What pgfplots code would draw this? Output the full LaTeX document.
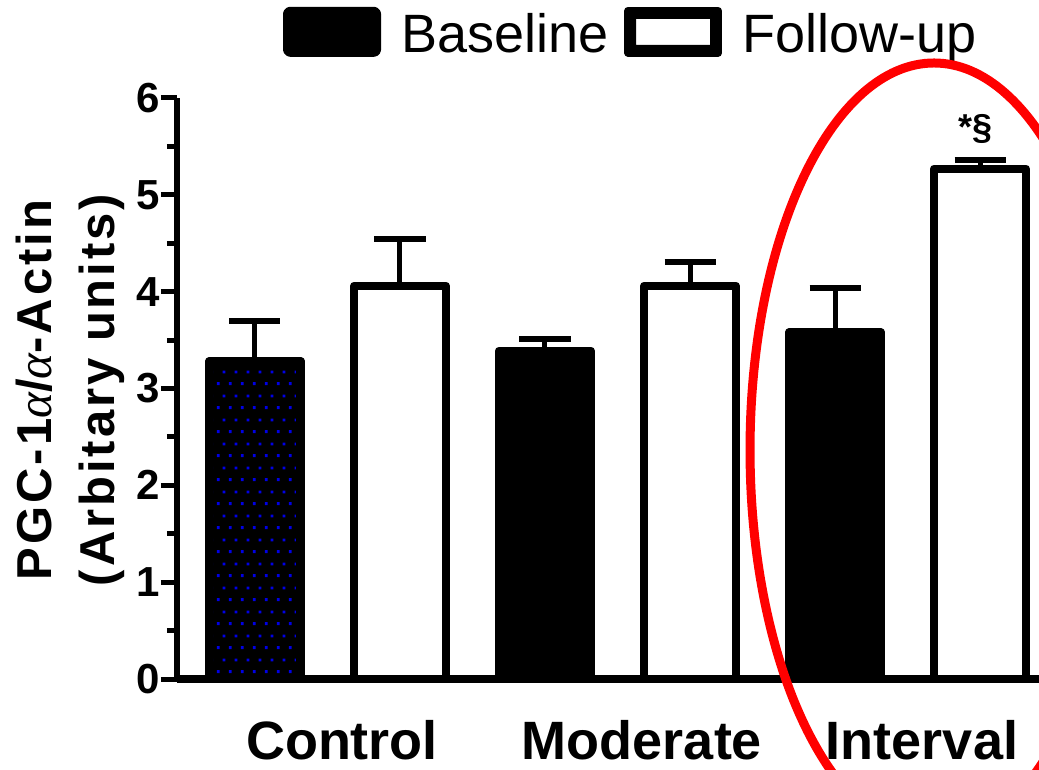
\documentclass[border=0pt]{standalone}
\usepackage{pgfplots}
\pgfplotsset{compat=1.18}
\usepackage{pgfplotstable}
\usepackage{fontspec}
\setmainfont{Liberation Sans}
\newfontfamily\greekf{Liberation Serif}
\usetikzlibrary{patterns}
\pgfdeclarepatternformonly{bluedots}{\pgfqpoint{0pt}{0pt}}{\pgfqpoint{12pt}{24pt}}{\pgfqpoint{12pt}{24pt}}{%
  \pgfpathrectangle{\pgfqpoint{1pt}{1pt}}{\pgfqpoint{3pt}{3pt}}%
  \pgfpathrectangle{\pgfqpoint{7pt}{13pt}}{\pgfqpoint{3pt}{3pt}}%
  \pgfusepath{fill}}
\definecolor{dotblue}{RGB}{0,0,230}
\newcommand{\tl}[1]{\mbox{\fontsize{42}{42}\selectfont\bfseries #1}}

\pgfplotstableread{
x y e
0 3.28 0.42
2 3.39 0.12
4 3.58 0.46
}\tblbase
\pgfplotstableread{
x y e
1 4.06 0.48
3 4.06 0.25
5 5.27 0.09
}\tblfollow
\pgfplotstableread{
x y
0 3.22
}\tbldots

\begin{document}
\begin{tikzpicture}
\useasboundingbox (0pt,0pt) rectangle (1039pt,769pt);
\clip (0pt,0pt) rectangle (1039pt,769pt);
\begin{axis}[
  at={(177pt,90pt)}, anchor=south west,
  x=145pt, y=96.8333pt,
  xmin=-0.5379, xmax=5.407, ymin=0, ymax=6,
  clip=false,
  axis x line=bottom, axis y line=left,
  axis line style={-, black},
  x axis line style={line width=8pt},
  y axis line style={line width=6pt},
  ytick={0,1,2,3,4,5,6},
  yticklabels={\tl{0},\tl{1},\tl{2},\tl{3},\tl{4},\tl{5},\tl{6}},
  minor ytick={0.5,1.5,2.5,3.5,4.5,5.5},
  tick align=outside,
  major tick length=16pt, minor tick length=10pt,
  ytick style={line width=5pt, black},
  minor tick style={line width=5pt, black},
  yticklabel style={font=\fontsize{42}{42}\selectfont\bfseries, inner sep=1pt},
  xtick={0.6,2.669,4.6},
  xticklabels={Control,Moderate,Interval},
  xtick style={draw=none},
  xticklabel style={font=\fontsize{54}{54}\selectfont\bfseries, anchor=base, yshift=-64pt},
  legend columns=2,
  legend style={draw=none, fill=none, inner sep=0pt, outer sep=0pt,
    at={(axis description cs:0.123,1.157)}, anchor=north west,
    font=\fontsize{54}{60}\selectfont,
    nodes={inner sep=0pt, text height=39pt, text depth=12pt},
    /tikz/every odd column/.append style={column sep=20pt},
    /tikz/every even column/.append style={column sep=16pt}},
]
\addplot[ybar, bar shift=0pt, bar width=92pt, fill=black, draw=black, line width=8pt, line join=round,
  legend image code/.code={\fill[black, rounded corners=3pt] (0pt,-13.5pt) rectangle (90pt,28.5pt);},
  error bars/.cd, y dir=plus, y explicit, error mark=|,
  error bar style={line width=5pt, black},
  error mark options={mark size=25.5pt, line width=6pt, black}]
  table[x=x, y=y, y error=e]{\tblbase};
\addlegendentry{Baseline}
\addplot[ybar, bar shift=0pt, bar width=92pt, fill=white, draw=black, line width=8pt, line join=round,
  legend image code/.code={\path (0pt,-13.5pt) rectangle (90pt,28.5pt);
    \draw[black, line width=8pt, fill=white, rounded corners=3pt] (4pt,-9.5pt) rectangle (86pt,24.5pt);},
  error bars/.cd, y dir=plus, y explicit, error mark=|,
  error bar style={line width=5pt, black},
  error mark options={mark size=25.5pt, line width=6pt, black}]
  table[x=x, y=y, y error=e]{\tblfollow};
\addlegendentry{Follow-up}
\addplot[ybar, bar shift=0pt, bar width=82pt, draw=none, pattern=bluedots, pattern color=dotblue, forget plot]
  table[x=x, y=y]{\tbldots};
\node[font=\fontsize{36}{36}\selectfont\bfseries, anchor=base] at (axis cs:4.97,5.57) {*§};
\coordinate (ec) at (axis cs:4.683,2.365);
\end{axis}
\draw[red, line width=9pt] (ec) ellipse [x radius=184pt, y radius=387pt];
\node[rotate=90, align=center, font=\fontsize{49}{63}\selectfont\bfseries\addfontfeature{LetterSpace=6}] at (70pt,379pt)
  {PGC-1{\greekf\mdseries\itshape α}/{\greekf\mdseries\itshape α}-Actin\\(Arbitary units)};
\end{tikzpicture}
\end{document}
